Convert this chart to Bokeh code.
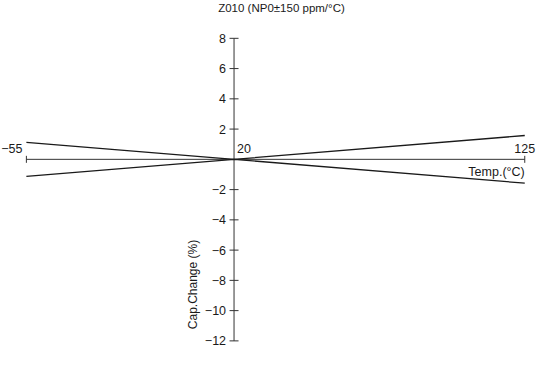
from bokeh.plotting import figure
from bokeh.core.properties import value
from bokeh.embed import file_html
from bokeh.resources import INLINE
import math

# ---- data ----
title_text = "Z010 (NP0±150 ppm/°C)"
temps = [-55, 20, 125]
upper = [1.125, 0.0, 1.575]
lower = [-1.125, 0.0, -1.575]
x_axis_ends = [-55, 125]
x_end_labels = ["−55", "125"]
ref_temp = [20]
ref_label = ["20"]
y_ticks = [8, 6, 4, 2, -2, -4, -6, -8, -10, -12]
y_tick_labels = ["8", "6", "4", "2", "−2", "−4", "−6", "−8", "−10", "−12"]
x_title = "Temp.(°C)"
y_title = "Cap.Change (%)"

W, H = 537, 349
X0, X1 = -64.35, 129.6
Y0, Y1 = -12.57, 10.5

def px_x(px):
    # page pixel -> data x
    return X0 + (px - 8) / W * (X1 - X0)

def px_y(py):
    # page pixel -> data y
    return Y1 - (py - 8) / H * (Y1 - Y0)

FONT = value("Liberation Sans")
INK = "#1a1a1a"
AX = "#333333"
FS = "12.5px"

p = figure(width=W, height=H, x_range=(X0, X1), y_range=(Y0, Y1),
           x_axis_type=None, y_axis_type=None, toolbar_location=None,
           output_backend="svg", min_border=0, outline_line_color=None)
p.xgrid.visible = False
p.ygrid.visible = False

# axes lines
p.line(x=x_axis_ends, y=[0, 0], line_color=AX, line_width=1)
p.line(x=[ref_temp[0], ref_temp[0]], y=[min(y_ticks), max(y_ticks)], line_color=AX, line_width=1)

# y ticks
p.scatter(x=[ref_temp[0]] * len(y_ticks), y=y_ticks, marker="dash", size=9,
          line_color=AX, line_width=1)
p.text(x=[ref_temp[0]] * len(y_ticks), y=y_ticks, text=y_tick_labels,
       x_offset=-8, text_align="right", text_baseline="middle",
       text_font=FONT, text_font_size=FS, text_color=INK)

# x end caps
p.scatter(x=x_axis_ends, y=[0, 0], marker="dash", angle=math.pi / 2, size=7,
          line_color=AX, line_width=1)
p.text(x=[x_axis_ends[0]], y=[0], text=[x_end_labels[0]], x_offset=-4, y_offset=-6,
       text_align="right", text_baseline="bottom",
       text_font=FONT, text_font_size=FS, text_color=INK)
p.text(x=[x_axis_ends[1]], y=[0], text=[x_end_labels[1]], x_offset=0, y_offset=-6,
       text_align="center", text_baseline="bottom",
       text_font=FONT, text_font_size=FS, text_color=INK)
p.text(x=ref_temp, y=[0], text=ref_label, x_offset=3, y_offset=-6,
       text_align="left", text_baseline="bottom",
       text_font=FONT, text_font_size=FS, text_color=INK)

# characteristic lines
p.line(x=temps, y=upper, line_color=INK, line_width=1.3)
p.line(x=temps, y=lower, line_color=INK, line_width=1.3)

# axis titles
p.text(x=[x_axis_ends[1]], y=[0], text=[x_title], x_offset=0, y_offset=6,
       text_align="right", text_baseline="top",
       text_font=FONT, text_font_size=FS, text_color=INK)
p.text(x=[px_x(200.5)], y=[px_y(292)], text=[y_title], angle=math.pi / 2,
       text_align="center", text_baseline="middle",
       text_font=FONT, text_font_size="12px", text_color=INK)

# title
p.text(x=[px_x(289)], y=[px_y(15)], text=[title_text],
       text_align="center", text_baseline="middle",
       text_font=FONT, text_font_size="11.5px", text_color=INK)

open("out.html", "w").write(file_html(p, INLINE))
